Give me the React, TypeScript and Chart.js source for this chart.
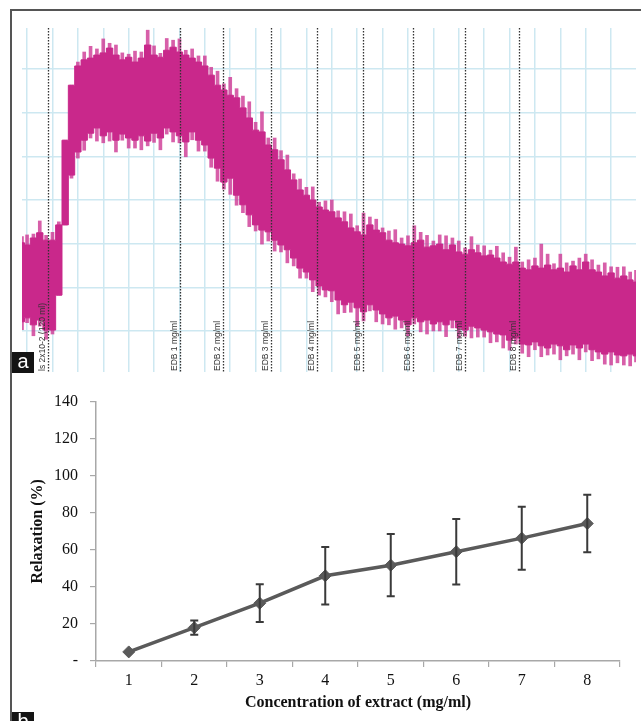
import React, { useEffect, useRef } from "react";
import { Chart, registerables } from "chart.js";
Chart.register(...registerables);

// ---------- Panel a: tension recording (envelope of the trace) ----------
const traceTime = [
  -0.2, 0, 0.25, 0.5, 0.75, 1, 1.25, 1.5, 1.75, 2,
  2.25, 2.5, 2.75, 3, 3.25, 3.5, 3.75, 4, 4.25, 4.5,
  4.75, 5, 5.25, 5.5, 5.75, 6, 6.25, 6.5, 6.75, 7,
  7.25, 7.5, 7.75, 8, 8.25, 8.5, 8.75, 9, 9.25, 9.5,
  9.75, 10, 10.25, 10.5, 10.75, 11, 11.25, 11.5, 11.75, 12,
  12.25, 12.5, 12.75, 13, 13.25, 13.5, 13.75, 14, 14.25, 14.5,
  14.75, 15, 15.25, 15.5, 15.75, 16, 16.25, 16.5, 16.75, 17,
  17.25, 17.5, 17.75, 18, 18.25, 18.5, 18.75, 19, 19.25, 19.5,
  19.75, 20, 20.25, 20.5, 20.75, 21, 21.25, 21.5, 21.75, 22,
  22.25, 22.5, 22.75, 23, 23.25, 23.5, 23.75, 23.98,
];
// solid core of the trace (upper / lower edge)
const traceUpper = [
  3.02, 2.97, 3.13, 3.25, 3.08, 3.08, 3.43, 5.37, 6.63, 7.07,
  7.21, 7.25, 7.32, 7.37, 7.48, 7.32, 7.21, 7.27, 7.16, 7.25,
  7.55, 7.32, 7.27, 7.43, 7.5, 7.39, 7.32, 7.25, 7.16, 7.07,
  6.86, 6.63, 6.52, 6.4, 6.34, 6.11, 5.88, 5.6, 5.56, 5.26,
  5.15, 4.92, 4.69, 4.46, 4.23, 4.11, 4.0, 3.84, 3.77, 3.73,
  3.59, 3.5, 3.36, 3.27, 3.2, 3.43, 3.31, 3.25, 3.08, 3.02,
  2.99, 2.95, 3.02, 3.08, 2.92, 2.95, 2.99, 2.86, 2.97, 2.81,
  2.76, 2.86, 2.79, 2.72, 2.74, 2.67, 2.58, 2.53, 2.58, 2.44,
  2.4, 2.49, 2.44, 2.51, 2.4, 2.44, 2.35, 2.49, 2.4, 2.58,
  2.4, 2.35, 2.26, 2.33, 2.21, 2.26, 2.17, 2.12,
];
const traceLower = [
  1.21, 1.3, 1.14, 1.25, 1.02, 1.02, 1.82, 3.43, 4.57, 5.1,
  5.37, 5.53, 5.65, 5.47, 5.56, 5.37, 5.51, 5.42, 5.37, 5.47,
  5.35, 5.53, 5.42, 5.65, 5.56, 5.47, 5.33, 5.56, 5.37, 5.26,
  4.96, 4.73, 4.41, 4.5, 4.11, 3.89, 3.66, 3.43, 3.31, 3.27,
  3.08, 2.97, 2.86, 2.67, 2.44, 2.35, 2.17, 2.03, 1.94, 1.92,
  1.71, 1.6, 1.66, 1.53, 1.44, 1.6, 1.48, 1.39, 1.3, 1.34,
  1.25, 1.14, 1.3, 1.21, 1.25, 1.16, 1.21, 1.14, 1.25, 1.07,
  1.02, 1.11, 1.07, 1.02, 0.98, 0.93, 0.91, 0.79, 0.84, 0.7,
  0.68, 0.75, 0.66, 0.61, 0.7, 0.66, 0.57, 0.68, 0.61, 0.7,
  0.57, 0.52, 0.47, 0.52, 0.45, 0.43, 0.47, 0.43,
];
// height of the noise spikes beyond the solid core
const spikeUp = [
  0.14, 0.23, 0.09, 0.27, 0.11, 0.18, 0.07, 0, 0, 0.09,
  0.18, 0.27, 0.14, 0.32, 0.11, 0.23, 0.16, 0.07, 0.25, 0.14,
  0.34, 0.21, 0.09, 0.27, 0.16, 0.3, 0.11, 0.21, 0.14, 0.23,
  0.18, 0.32, 0.14, 0.41, 0.21, 0.27, 0.37, 0.18, 0.46, 0.16,
  0.27, 0.21, 0.34, 0.14, 0.25, 0.18, 0.3, 0.11, 0.21, 0.27,
  0.16, 0.23, 0.32, 0.14, 0.5, 0.18, 0.25, 0.11, 0.21, 0.3,
  0.14, 0.23, 0.39, 0.18, 0.27, 0.11, 0.21, 0.32, 0.16, 0.25,
  0.14, 0.3, 0.18, 0.23, 0.11, 0.27, 0.21, 0.16, 0.34, 0.14,
  0.23, 0.18, 0.55, 0.25, 0.14, 0.32, 0.21, 0.11, 0.27, 0.18,
  0.23, 0.16, 0.3, 0.14, 0.25, 0.21, 0.18, 0.27,
];
const spikeDown = [
  0.18, 0.11, 0.25, 0.14, 0.21, 0.09, 0, 0, 0.07, 0.14,
  0.23, 0.11, 0.3, 0.16, 0.21, 0.27, 0.14, 0.23, 0.18, 0.32,
  0.11, 0.21, 0.27, 0.14, 0.23, 0.16, 0.34, 0.18, 0.25, 0.14,
  0.21, 0.3, 0.16, 0.37, 0.23, 0.18, 0.27, 0.14, 0.32, 0.21,
  0.25, 0.16, 0.3, 0.18, 0.23, 0.14, 0.27, 0.21, 0.16, 0.25,
  0.32, 0.18, 0.23, 0.41, 0.21, 0.14, 0.27, 0.23, 0.16, 0.3,
  0.18, 0.25, 0.14, 0.23, 0.32, 0.16, 0.21, 0.27, 0.18, 0.23,
  0.14, 0.27, 0.21, 0.16, 0.25, 0.18, 0.3, 0.23, 0.14, 0.21,
  0.27, 0.18, 0.25, 0.16, 0.23, 0.32, 0.14, 0.21, 0.27, 0.18,
  0.25, 0.16, 0.23, 0.3, 0.18, 0.21, 0.27, 0.14,
];
const eventTimes = [0.83, 6.02, 7.72, 9.61, 11.42, 13.23, 15.2, 17.24, 19.37];
const eventLabels = [
  "ls 2x10-2 (120 ml)",
  "EDB 1 mg/ml",
  "EDB 2 mg/ml",
  "EDB 3 mg/ml",
  "EDB 4 mg/ml",
  "EDB 5 mg/ml",
  "EDB 6 mg/ml",
  "EDB 7 mg/ml",
  "EDB 8 mg/ml",
];

// ---------- Panel b: concentration–response ----------
const concentrations = ["1", "2", "3", "4", "5", "6", "7", "8"];
const relaxation = [4.9, 18, 31.2, 46, 51.7, 59, 66.3, 74.2];
const relaxationErr = [0, 3.8, 10.2, 15.5, 16.8, 17.7, 17, 15.5];

const MAGENTA = "#c9288b";
const MAGENTA_LIGHT = "rgba(205, 55, 148, 0.8)";

const eventPlugin = {
  id: "events",
  afterDatasetsDraw(chart: any) {
    const { ctx, chartArea, scales } = chart;
    ctx.save();
    eventTimes.forEach((t, i) => {
      const x = Math.round(scales.x.getPixelForValue(t)) + 0.5;
      ctx.strokeStyle = "#333";
      ctx.lineWidth = 1.3;
      ctx.setLineDash([1.5, 1.5]);
      ctx.beginPath();
      ctx.moveTo(x, chartArea.top);
      ctx.lineTo(x, chartArea.bottom);
      ctx.stroke();
      ctx.setLineDash([]);
      ctx.save();
      ctx.translate(x - 5.5, chartArea.bottom - 1);
      ctx.rotate(-Math.PI / 2);
      ctx.fillStyle = "#333";
      ctx.font = '8.5px "Liberation Sans"';
      ctx.textAlign = "left";
      ctx.textBaseline = "middle";
      ctx.fillText(eventLabels[i], 0, 0);
      ctx.restore();
    });
    ctx.restore();
  },
};

const errorBarPlugin = {
  id: "errorBars",
  afterDatasetsDraw(chart: any) {
    const { ctx, scales } = chart;
    const meta = chart.getDatasetMeta(0);
    ctx.save();
    ctx.strokeStyle = "#3a3a3a";
    ctx.lineWidth = 2;
    meta.data.forEach((pt: any, i: number) => {
      const e = relaxationErr[i];
      if (!e) return;
      const x = pt.x;
      const yTop = scales.y.getPixelForValue(relaxation[i] + e);
      const yBot = scales.y.getPixelForValue(relaxation[i] - e);
      ctx.beginPath();
      ctx.moveTo(x, yTop);
      ctx.lineTo(x, yBot);
      ctx.moveTo(x - 4, yTop);
      ctx.lineTo(x + 4, yTop);
      ctx.moveTo(x - 4, yBot);
      ctx.lineTo(x + 4, yBot);
      ctx.stroke();
    });
    ctx.restore();
  },
};

export default function App() {
  const refA = useRef<HTMLCanvasElement>(null);
  const refB = useRef<HTMLCanvasElement>(null);

  useEffect(() => {
    const gridBlue = "#cde8f1";
    const chartA = new Chart(refA.current!, {
      data: {
        datasets: [
          {
            type: "line",
            order: 1,
            data: traceTime.map((t, i) => ({ x: t, y: traceUpper[i] })),
            borderColor: MAGENTA,
            backgroundColor: MAGENTA,
            borderWidth: 1,
            pointRadius: 0,
            stepped: "middle",
            fill: "+1",
          },
          {
            type: "line",
            order: 1,
            data: traceTime.map((t, i) => ({ x: t, y: traceLower[i] })),
            borderColor: MAGENTA,
            backgroundColor: MAGENTA,
            borderWidth: 1,
            pointRadius: 0,
            stepped: "middle",
            fill: false,
          },
          {
            type: "bar",
            order: 2,
            data: traceTime.map((t, i) => ({
              x: t,
              y: [traceLower[i] - spikeDown[i], traceUpper[i] + spikeUp[i]],
            })),
            backgroundColor: MAGENTA_LIGHT,
            borderWidth: 0,
            barThickness: 3,
            grouped: false,
          },
        ],
      },
      options: {
        responsive: false,
        animation: false,
        layout: { padding: 0 },
        plugins: { legend: { display: false }, tooltip: { enabled: false } },
        scales: {
          x: {
            type: "linear",
            min: -0.2,
            max: 23.98,
            offset: false,
            ticks: { display: false, stepSize: 1, includeBounds: false },
            grid: { color: gridBlue, lineWidth: 1.5, drawTicks: false, offset: false },
            border: { display: false },
          },
          y: {
            type: "linear",
            min: 0.06,
            max: 7.94,
            ticks: { display: false, stepSize: 1, includeBounds: false },
            grid: { color: gridBlue, lineWidth: 1.5, drawTicks: false },
            border: { display: false },
          },
        },
      },
      plugins: [eventPlugin],
    } as any);

    const serif = "Liberation Serif";
    const axisGray = "#a8a8a8";
    const chartB = new Chart(refB.current!, {
      type: "line",
      data: {
        labels: concentrations,
        datasets: [
          {
            data: relaxation,
            borderColor: "#5a5a5a",
            borderWidth: 3.5,
            pointStyle: "rectRot",
            pointRadius: 6,
            pointBackgroundColor: "#5a5a5a",
            pointBorderColor: "#5a5a5a",
            pointBorderWidth: 1,
            tension: 0,
            fill: false,
          },
        ],
      },
      options: {
        responsive: false,
        animation: false,
        layout: { padding: { top: 15, right: 21, left: 0, bottom: 0 } },
        plugins: { legend: { display: false }, tooltip: { enabled: false } },
        scales: {
          x: {
            type: "category",
            offset: true,
            grid: {
              display: true,
              drawOnChartArea: false,
              offset: true,
              tickLength: 6,
              color: axisGray,
              lineWidth: 1.2,
            },
            border: { display: true, color: axisGray, width: 1.5 },
            ticks: { font: { family: serif, size: 16 }, color: "#111", padding: 4 },
            title: {
              display: true,
              text: "Concentration of extract (mg/ml)",
              font: { family: serif, size: 16, weight: "bold" },
              color: "#111",
              padding: { top: 0, bottom: 9 },
            },
            afterFit: (s: any) => {
              s.height = 60;
            },
          },
          y: {
            min: 0,
            max: 140,
            grid: {
              display: true,
              drawOnChartArea: false,
              tickLength: 6,
              color: axisGray,
              lineWidth: 1.2,
            },
            border: { display: true, color: axisGray, width: 1.5 },
            ticks: {
              stepSize: 20,
              font: { family: serif, size: 16 },
              color: "#111",
              padding: 12,
              callback: (v: any) => (v === 0 ? "-" : String(v)),
            },
            title: {
              display: true,
              text: "Relaxation (%)",
              font: { family: serif, size: 16, weight: "bold" },
              color: "#111",
              padding: { top: 16, bottom: 0 },
            },
            afterFit: (s: any) => {
              s.width = 84;
            },
          },
        },
      },
      plugins: [errorBarPlugin],
    } as any);

    return () => {
      chartA.destroy();
      chartB.destroy();
    };
  }, []);

  const tag: React.CSSProperties = {
    position: "absolute",
    left: 12,
    width: 22,
    height: 21,
    background: "#141414",
    color: "#fff",
    font: '20px "Liberation Sans"',
    lineHeight: "19px",
    textAlign: "center",
  };

  return (
    <div
      style={{
        position: "fixed",
        left: 0,
        top: 0,
        width: 641,
        height: 721,
        background: "#fff",
        overflow: "hidden",
      }}
    >
      <div
        style={{
          position: "absolute",
          left: 10,
          top: 9,
          width: 640,
          height: 720,
          borderTop: "2px solid #555",
          borderLeft: "2px solid #555",
        }}
      />
      <canvas
        ref={refA}
        width={614}
        height={344}
        style={{ position: "absolute", left: 22, top: 28, width: 614, height: 344 }}
      />
      <canvas
        ref={refB}
        width={629}
        height={341}
        style={{ position: "absolute", left: 12, top: 380, width: 629, height: 341 }}
      />
      <div style={{ ...tag, top: 352 }}>a</div>
      <div style={{ ...tag, top: 712 }}>b</div>
    </div>
  );
}
